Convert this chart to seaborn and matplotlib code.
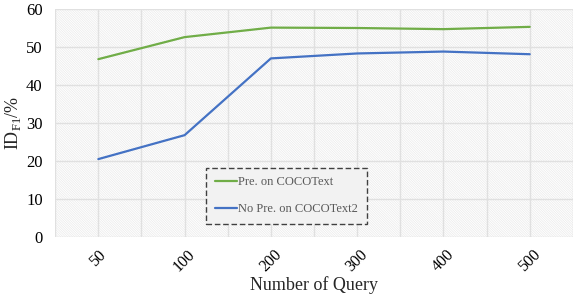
import pandas as pd
import matplotlib
matplotlib.use("Agg")
import matplotlib.pyplot as plt
import seaborn as sns
from matplotlib.patches import Rectangle
from matplotlib.ticker import MultipleLocator

queries = ["50", "100", "200", "300", "400", "500"]
pre_coco = [46.8, 52.6, 55.1, 55.0, 54.7, 55.3]
nopre_coco2 = [20.5, 26.8, 47.0, 48.3, 48.8, 48.1]
series_names = ["Pre. on COCOText", "No Pre. on COCOText2"]

df = pd.DataFrame({
    "query": queries * 2,
    "idf1": pre_coco + nopre_coco2,
    "series": [series_names[0]] * 6 + [series_names[1]] * 6,
})

sns.set_style("white")
plt.rcParams["font.family"] = ["Liberation Serif", "DejaVu Serif"]
plt.rcParams["mathtext.fontset"] = "custom"
plt.rcParams["mathtext.rm"] = "Liberation Serif"
plt.rcParams["hatch.linewidth"] = 0.5

fig = plt.figure(figsize=(5.81, 3.0), dpi=100)
ax = fig.add_axes([0.095, 0.21, 0.891, 0.76])

# hatched plot area (Excel style pattern fill)
bg = Rectangle((0, 0), 1, 1, transform=ax.transAxes, facecolor="white",
               edgecolor="#eaeaea", lw=0, hatch="\\" * 14, zorder=0)
ax.add_patch(bg)

sns.lineplot(
    data=df,
    x="query",
    y="idf1",
    hue="series",
    palette=["#70ad47", "#4472c4"],
    linewidth=1.6,
    ax=ax,
    zorder=3
)

ax.set_xlim(-0.5, 5.5)
ax.set_ylim(0, 60)
ax.yaxis.set_major_locator(MultipleLocator(10))
ax.xaxis.set_minor_locator(MultipleLocator(0.5))
ax.grid(True, which="both", color="#e0e0e0", linewidth=1.0, zorder=1)
ax.set_axisbelow(True)
for s in ax.spines.values():
    s.set_visible(False)
ax.tick_params(axis="both", which="both", length=0, labelsize=12, colors="black")
ax.tick_params(axis="y", pad=9)
ax.tick_params(axis="x", labelsize=11.5, pad=7)
plt.setp(ax.get_xticklabels(), rotation=45)

ax.set_xlabel("Number of Query", fontsize=13, labelpad=1)
ax.set_ylabel(r"ID$_{\rm F1}$/%", fontsize=13, labelpad=2)

leg = ax.legend(
    loc="lower left",
    bbox_to_anchor=(0.291, 0.057),
    borderaxespad=0,
    frameon=True,
    fancybox=False,
    fontsize=9,
    labelspacing=1.2,
    handlelength=1.8,
    handletextpad=0.1,
    borderpad=0.7,
    title=None,
)
frame = leg.get_frame()
frame.set_facecolor("#f2f2f2")
frame.set_edgecolor("#404040")
frame.set_linestyle((0, (4, 2)))
frame.set_linewidth(1.0)
frame.set_alpha(1)
for t in leg.get_texts():
    t.set_color("#595959")

fig.savefig("out.png", dpi=100)
